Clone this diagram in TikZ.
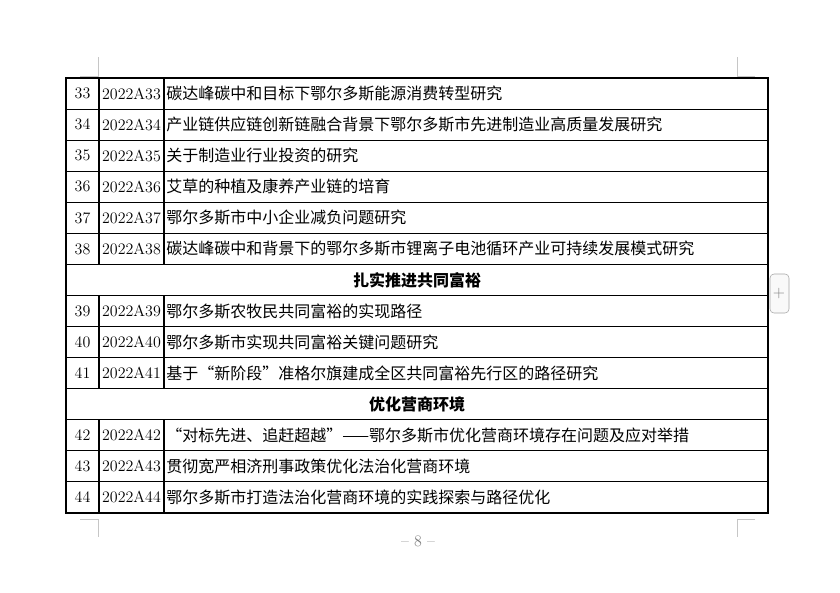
\documentclass[tikz,border=0pt]{standalone}
\usepackage{fontspec}
\newfontfamily\cjk{Noto Sans CJK SC}
\begin{document}
\begin{tikzpicture}[x=0.75pt,y=-0.75pt,
  grid/.style={line width=0.8pt,black},
  cornermark/.style={line width=0.6pt,gray!45},
  cell/.style={font=\cjk\fontsize{12pt}{13pt}\selectfont,inner sep=0pt},
  num/.style={font=\fontsize{12pt}{13pt}\selectfont,inner sep=0pt}]
\useasboundingbox[fill=white] (0,0) rectangle (840,593);
\def\rh{31.07}
% grid
\draw[grid] (66,78) rectangle (768,513);
\foreach \i in {1,...,13} \draw[grid] (66,78+\i*\rh) -- (768,78+\i*\rh);
\draw[grid] (99,78) -- (99,78+6*\rh) (164,78) -- (164,78+6*\rh);
\draw[grid] (99,78+7*\rh) -- (99,78+10*\rh) (164,78+7*\rh) -- (164,78+10*\rh);
\draw[grid] (99,78+11*\rh) -- (99,513) (164,78+11*\rh) -- (164,513);
% rows
\foreach \r/\n/\t in {0/33/碳达峰碳中和目标下鄂尔多斯能源消费转型研究,
 1/34/产业链供应链创新链融合背景下鄂尔多斯市先进制造业高质量发展研究,
 2/35/关于制造业行业投资的研究,
 3/36/艾草的种植及康养产业链的培育,
 4/37/鄂尔多斯市中小企业减负问题研究,
 5/38/碳达峰碳中和背景下的鄂尔多斯市锂离子电池循环产业可持续发展模式研究,
 7/39/鄂尔多斯农牧民共同富裕的实现路径,
 8/40/鄂尔多斯市实现共同富裕关键问题研究,
 9/41/基于“新阶段”准格尔旗建成全区共同富裕先行区的路径研究,
 11/42/“对标先进、追赶超越”——鄂尔多斯市优化营商环境存在问题及应对举措,
 12/43/贯彻宽严相济刑事政策优化法治化营商环境,
 13/44/鄂尔多斯市打造法治化营商环境的实践探索与路径优化}{
  \node[num] (n\n) at (82.5,78+\r*\rh+\rh/2) {\n};
  \node[num] (c\n) at (131.5,78+\r*\rh+\rh/2) {2022A\n};
  \node[cell,anchor=west] (t\n) at (166,78+\r*\rh+\rh/2) {\t};
}
\node[cell,font=\cjk\bfseries\fontsize{12pt}{13pt}\selectfont] (s1) at (417,78+6.5*\rh) {扎实推进共同富裕};
\node[cell,font=\cjk\bfseries\fontsize{12pt}{13pt}\selectfont] (s2) at (417,78+10.5*\rh) {优化营商环境};
% corner marks
\draw[cornermark] (98,57) -- (98,76) -- (80,76);
\draw[cornermark] (737,57) -- (737,76) -- (755,76);
\draw[cornermark] (80,519) -- (98,519) -- (98,537);
\draw[cornermark] (755,519) -- (737,519) -- (737,537);
\node[num,text=gray] (pg) at (418,541) {-- 8 --};
% plus button
\draw[gray!70,fill=gray!5,rounded corners=3pt] (770,274) rectangle (789,313);
\node[text=gray,font=\fontsize{12pt}{12pt}\selectfont] (plus) at (779,294) {+};
\end{tikzpicture}
\end{document}
